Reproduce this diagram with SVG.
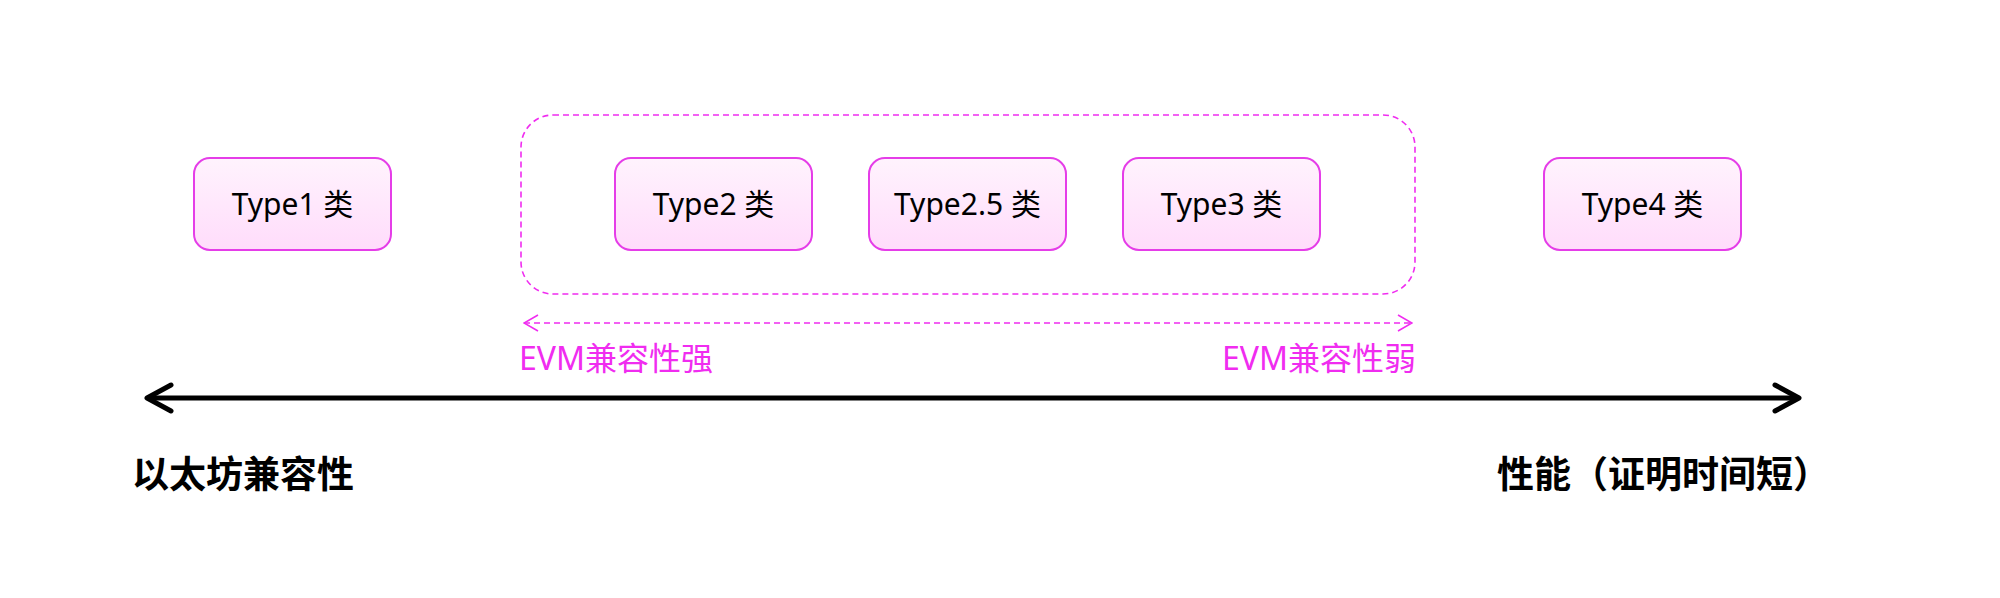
<svg xmlns="http://www.w3.org/2000/svg" width="2000" height="598" viewBox="0 0 2000 598">
<style>
.box{fill:url(#g);stroke:#e53de8;stroke-width:2}
.bt{font-family:"Noto Sans","Noto Sans CJK SC",sans-serif;font-size:30px;fill:#000;text-anchor:middle}
.pk{font-family:"Noto Sans","Noto Sans CJK SC",sans-serif;font-size:32px;fill:#f02cf0}
.ax{font-family:"Noto Sans CJK SC",sans-serif;font-size:37px;font-weight:bold;fill:#000}
</style>
<defs>
<linearGradient id="g" x1="0" y1="0" x2="0" y2="1">
<stop offset="0" stop-color="#fff3fd"/>
<stop offset="1" stop-color="#ffdcfb"/>
</linearGradient>
<marker id="pa" viewBox="0 0 16 20" refX="15" refY="10" markerWidth="16" markerHeight="20" markerUnits="userSpaceOnUse" orient="auto-start-reverse">
<path d="M1 2 L15 10 L1 18" fill="none" stroke="#f02cf0" stroke-width="1.6"/>
</marker>
<marker id="ba" viewBox="0 0 30 32" refX="27" refY="16" markerWidth="30" markerHeight="32" markerUnits="userSpaceOnUse" orient="auto-start-reverse">
<path d="M3 3 L27 16 L3 29" fill="none" stroke="#000" stroke-width="5" stroke-linecap="round" stroke-linejoin="round"/>
</marker>
</defs>
<rect width="2000" height="598" fill="#fff"/>
<g id="group">
<rect x="521" y="115" width="894" height="179" rx="32" fill="none" stroke="#f02cf0" stroke-width="1.6" stroke-dasharray="6 4"/>
</g>
<g id="connectors">
<line x1="524" y1="323" x2="1412" y2="323" stroke="#f02cf0" stroke-width="1.6" stroke-dasharray="6 4" marker-start="url(#pa)" marker-end="url(#pa)"/>
<line x1="147" y1="398" x2="1799" y2="398" stroke="#000" stroke-width="5" marker-start="url(#ba)" marker-end="url(#ba)"/>
</g>
<g id="type1"><rect class="box" x="194" y="158" width="197" height="92" rx="16"/><text class="bt" x="292.5" y="215">Type1 类</text></g>
<g id="type2"><rect class="box" x="615" y="158" width="197" height="92" rx="16"/><text class="bt" x="713.5" y="215">Type2 类</text></g>
<g id="type25"><rect class="box" x="869" y="158" width="197" height="92" rx="16"/><text class="bt" x="967.5" y="215">Type2.5 类</text></g>
<g id="type3"><rect class="box" x="1123" y="158" width="197" height="92" rx="16"/><text class="bt" x="1221.5" y="215">Type3 类</text></g>
<g id="type4"><rect class="box" x="1544" y="158" width="197" height="92" rx="16"/><text class="bt" x="1642.5" y="215">Type4 类</text></g>
<g id="labels">
<text class="pk" x="519" y="370">EVM兼容性强</text>
<text class="pk" x="1416" y="370" text-anchor="end">EVM兼容性弱</text>
<text class="ax" x="132" y="488">以太坊兼容性</text>
<text class="ax" x="1497" y="488">性能（证明时间短）</text>
</g>
</svg>
